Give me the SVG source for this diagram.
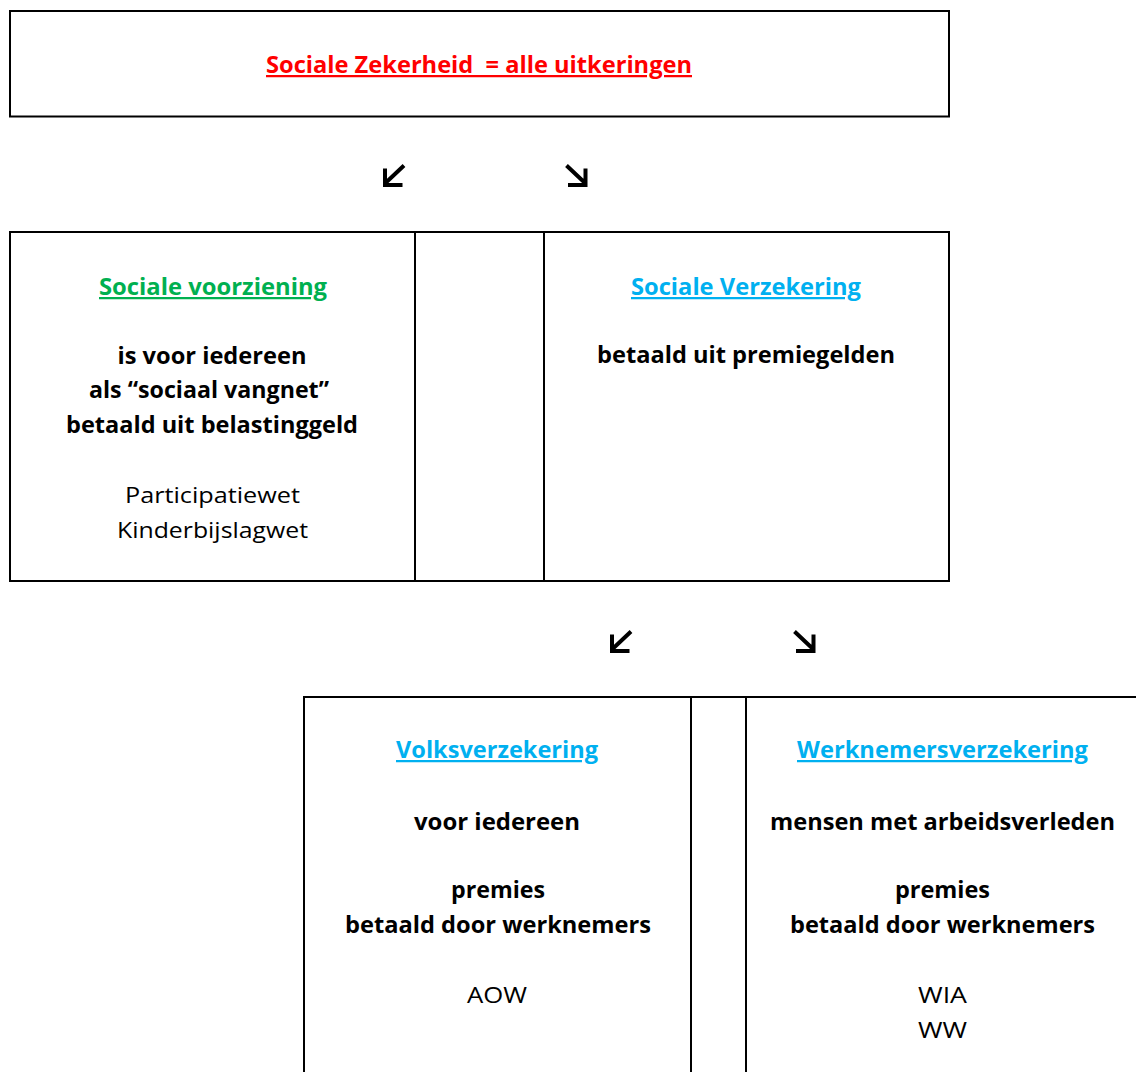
<svg xmlns="http://www.w3.org/2000/svg" width="1136" height="1072" viewBox="0 0 1136 1072">
  <style>
    .box { fill: none; stroke: #000; stroke-width: 2; }
    .t { font-family: "Open Sans", Lato, "Liberation Sans", sans-serif; font-size: 22.5px; text-anchor: middle; fill: #000; }
    .b { font-weight: bold; }
    .u { text-decoration: underline; font-weight: bold; }
    .red { fill: #FF0000; }
    .green { fill: #00B050; }
    .blue { fill: #00B0F0; }
    .arr { fill: none; stroke: #000; stroke-width: 4; stroke-linecap: butt; stroke-linejoin: miter; }
  </style>
  <defs>
    <path id="arrL" class="arr" d="M21,1.5 L3,18.5 M2,4.5 V21 H19.5"/>
    <path id="arrR" class="arr" d="M1.5,1.5 L19.5,18.5 M20.5,4.5 V21 H3"/>
  </defs>
  <rect width="1136" height="1072" fill="#fff"/>

  <g id="sociale-zekerheid">
    <rect class="box" x="10" y="11" width="939" height="105.5"/>
    <text class="t u red" x="479" y="73" xml:space="preserve" textLength="426" lengthAdjust="spacingAndGlyphs">Sociale Zekerheid  = alle uitkeringen</text>
  </g>

  <g id="sociale-voorziening">
    <rect class="box" x="10" y="232" width="405" height="349"/>
    <text class="t u green" x="213" y="295" textLength="228" lengthAdjust="spacingAndGlyphs">Sociale voorziening</text>
    <text class="t b" x="212" y="364" textLength="189" lengthAdjust="spacingAndGlyphs">is voor iedereen</text>
    <text class="t b" x="209" y="398" textLength="240" lengthAdjust="spacingAndGlyphs">als “sociaal vangnet”</text>
    <text class="t b" x="212" y="433" textLength="292" lengthAdjust="spacingAndGlyphs">betaald uit belastinggeld</text>
    <text class="t" x="212.5" y="503" textLength="175" lengthAdjust="spacingAndGlyphs">Participatiewet</text>
    <text class="t" x="212.5" y="538" textLength="191" lengthAdjust="spacingAndGlyphs">Kinderbijslagwet</text>
  </g>

  <g id="tussen-cel-1">
    <rect class="box" x="415" y="232" width="129" height="349"/>
  </g>

  <g id="sociale-verzekering">
    <rect class="box" x="544" y="232" width="405" height="349"/>
    <text class="t u blue" x="746" y="295" textLength="230" lengthAdjust="spacingAndGlyphs">Sociale Verzekering</text>
    <text class="t b" x="746" y="363" textLength="298" lengthAdjust="spacingAndGlyphs">betaald uit premiegelden</text>
  </g>

  <g id="volksverzekering">
    <rect class="box" x="304" y="697" width="387" height="420"/>
    <text class="t u blue" x="497" y="758" textLength="202" lengthAdjust="spacingAndGlyphs">Volksverzekering</text>
    <text class="t b" x="497" y="830" textLength="166" lengthAdjust="spacingAndGlyphs">voor iedereen</text>
    <text class="t b" x="498" y="898" textLength="94" lengthAdjust="spacingAndGlyphs">premies</text>
    <text class="t b" x="498" y="933" textLength="306" lengthAdjust="spacingAndGlyphs">betaald door werknemers</text>
    <text class="t" x="497" y="1003" textLength="60" lengthAdjust="spacingAndGlyphs">AOW</text>
  </g>

  <g id="tussen-cel-2">
    <rect class="box" x="691" y="697" width="55" height="420"/>
  </g>

  <g id="werknemersverzekering">
    <rect class="box" x="746" y="697" width="460" height="420"/>
    <text class="t u blue" x="942.5" y="758" textLength="291" lengthAdjust="spacingAndGlyphs">Werknemersverzekering</text>
    <text class="t b" x="942.5" y="830" textLength="345" lengthAdjust="spacingAndGlyphs">mensen met arbeidsverleden</text>
    <text class="t b" x="942.5" y="898" textLength="95" lengthAdjust="spacingAndGlyphs">premies</text>
    <text class="t b" x="942.5" y="933" textLength="305" lengthAdjust="spacingAndGlyphs">betaald door werknemers</text>
    <text class="t" x="942.5" y="1003" textLength="49" lengthAdjust="spacingAndGlyphs">WIA</text>
    <text class="t" x="942.5" y="1038" textLength="49" lengthAdjust="spacingAndGlyphs">WW</text>
  </g>

  <g id="connectors">
    <use href="#arrL" x="383" y="164"/>
    <use href="#arrR" x="565" y="164"/>
    <use href="#arrL" x="610" y="630"/>
    <use href="#arrR" x="793" y="630"/>
  </g>
</svg>
